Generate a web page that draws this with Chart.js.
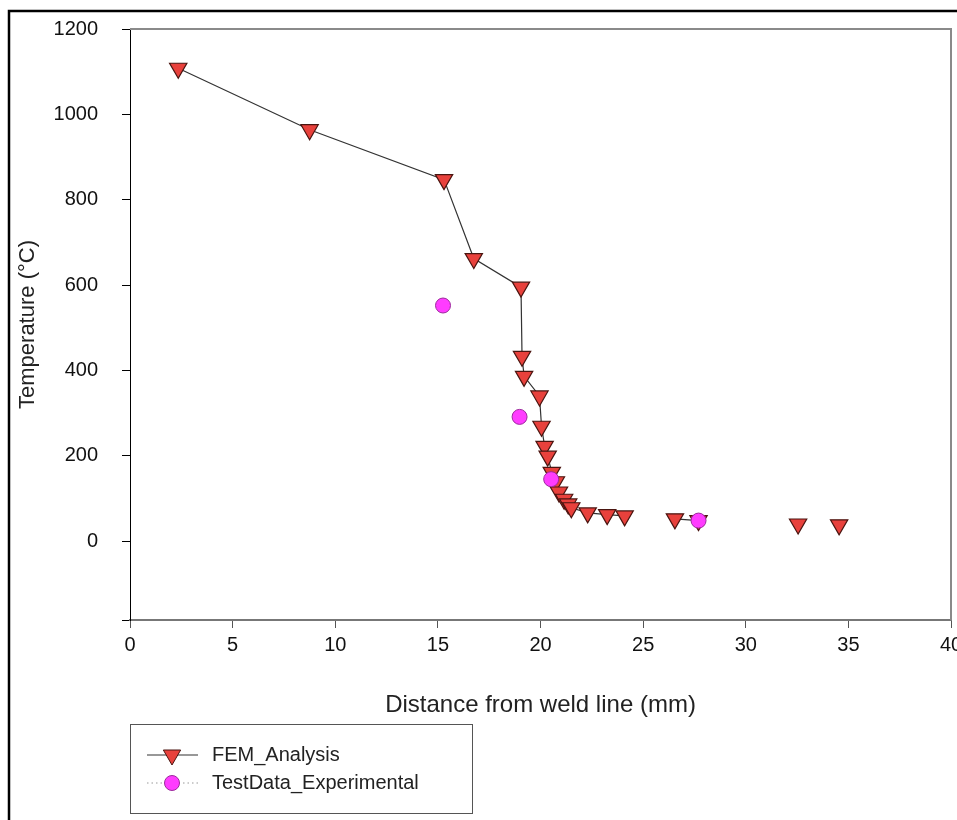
<!DOCTYPE html>
<html>
<head>
<meta charset="utf-8">
<script src="https://cdn.jsdelivr.net/npm/chart.js@4.4.1/dist/chart.umd.min.js"></script>
<style>
  body { margin: 0; background: #fff; overflow: hidden; }
  canvas { display: block; }
</style>
</head>
<body>
<canvas id="tempChart" width="957" height="820"></canvas>
<script>
    // Data
    const femX = [2.35, 8.75, 15.3, 16.75, 19.05, 19.1, 19.2, 19.95, 20.05, 20.2, 20.35, 20.55, 20.75, 20.9, 21.15, 21.35, 21.5, 22.3, 23.25, 24.1, 25.3, 26.55, 27.7, 30.1, 32.55, 33.5, 34.55];
    const femY = [1108, 964, 847, 662, 595, 433, 386, 340, 269, 222, 199, 161, 139, 115, 98, 87, 78, 66, 62, 59, null, 52, 48, null, 40, null, 38];
    const expX = [15.25, 18.98, 20.52, 27.7];
    const expY = [552, 291, 145, 48];
    const xTicks = [0, 5, 10, 15, 20, 25, 30, 35, 40];
    const yTicks = [0, 200, 400, 600, 800, 1000, 1200];

    const FONT = "'Liberation Sans', Arial, sans-serif";

    function toPoints(xs, ys) {
      return xs.map((x, i) => ({ x: x, y: ys[i] }));
    }

    // Frame, top/right plot borders and the boxed legend
    const decorPlugin = {
      id: 'decor',
      afterDraw(chart) {
        const ctx = chart.ctx;
        const a = chart.chartArea;
        ctx.save();
        // outer figure frame
        ctx.strokeStyle = '#000';
        ctx.lineWidth = 2.5;
        ctx.beginPath();
        ctx.moveTo(9, 830);
        ctx.lineTo(9, 11);
        ctx.lineTo(970, 11);
        ctx.stroke();
        // top and right of plot box
        ctx.strokeStyle = '#8a8a8a';
        ctx.lineWidth = 2;
        ctx.beginPath();
        ctx.moveTo(a.left, a.top);
        ctx.lineTo(a.right, a.top);
        ctx.lineTo(a.right, a.bottom);
        ctx.stroke();

        // legend
        ctx.strokeStyle = '#555';
        ctx.lineWidth = 1;
        ctx.strokeRect(130.5, 724.5, 342, 89);
        const rows = [755, 783];
        chart.data.datasets.forEach((ds, i) => {
          const y = rows[i];
          ctx.save();
          ctx.strokeStyle = i === 0 ? '#333' : '#999';
          ctx.lineWidth = i === 0 ? 1.2 : 1;
          ctx.setLineDash(i === 0 ? [] : [1.5, 3]);
          ctx.beginPath();
          ctx.moveTo(147, y);
          ctx.lineTo(198, y);
          ctx.stroke();
          ctx.restore();

          ctx.save();
          ctx.fillStyle = ds.pointBackgroundColor;
          ctx.strokeStyle = ds.pointBorderColor;
          ctx.lineWidth = 1;
          Chart.helpers.drawPoint(ctx, {
            pointStyle: ds.pointStyle,
            rotation: ds.pointRotation || 0,
            radius: ds.pointRadius,
            borderWidth: 1
          }, 172, y);
          ctx.restore();

          ctx.fillStyle = '#222';
          ctx.font = '20px ' + FONT;
          ctx.textBaseline = 'middle';
          ctx.textAlign = 'left';
          ctx.fillText(ds.label, 212, y);
        });
        ctx.restore();
      }
    };

    new Chart(document.getElementById('tempChart'), {
      type: 'scatter',
      data: {
        datasets: [
          {
            label: 'FEM_Analysis',
            data: toPoints(femX, femY),
            showLine: true,
            spanGaps: false,
            borderColor: '#333',
            borderWidth: 1.2,
            pointStyle: 'triangle',
            pointRotation: 180,
            pointRadius: 10,
            pointHoverRadius: 10,
            pointBackgroundColor: '#e8413c',
            pointBorderColor: '#4a1510',
            pointBorderWidth: 1.2,
            order: 2
          },
          {
            label: 'TestData_Experimental',
            data: toPoints(expX, expY),
            showLine: false,
            pointStyle: 'circle',
            pointRadius: 7.5,
            pointHoverRadius: 7.5,
            pointBackgroundColor: '#ff3cff',
            pointBorderColor: '#9b2a9b',
            pointBorderWidth: 1,
            order: 1
          }
        ]
      },
      options: {
        responsive: false,
        animation: false,
        layout: { autoPadding: false, padding: { top: 29, right: 6, bottom: 100, left: 0 } },
        plugins: {
          legend: { display: false },
          tooltip: { enabled: false }
        },
        scales: {
          x: {
            type: 'linear',
            min: xTicks[0],
            max: xTicks[xTicks.length - 1],
            afterBuildTicks: s => { s.ticks = xTicks.map(v => ({ value: v })); },
            afterFit: s => { s.height = 100; s.paddingLeft = 0; s.paddingRight = 0; },
            border: { display: true, color: '#777', width: 2 },
            grid: { drawOnChartArea: false, drawTicks: true, tickLength: 8, color: '#555' },
            ticks: { color: '#111', font: { family: FONT, size: 20 }, padding: 5, maxRotation: 0 },
            title: {
              display: true,
              text: 'Distance from weld line (mm)',
              color: '#222',
              font: { family: FONT, size: 24 },
              padding: { top: 0, bottom: 0 }
            }
          },
          y: {
            type: 'linear',
            min: -185,
            max: 1200,
            afterBuildTicks: s => { s.ticks = [{ value: -185 }].concat(yTicks.map(v => ({ value: v }))); },
            afterFit: s => { s.width = 130; s.paddingTop = 0; s.paddingBottom = 0; },
            border: { display: true, color: '#000', width: 1 },
            grid: { drawOnChartArea: false, drawTicks: true, tickLength: 8, color: '#000' },
            ticks: {
              color: '#111',
              font: { family: FONT, size: 20 },
              padding: 24,
              callback: v => (yTicks.includes(v) ? String(v) : '')
            },
            title: {
              display: true,
              text: 'Temperature (°C)',
              color: '#222',
              font: { family: FONT, size: 22 },
              padding: { top: 15, bottom: 0 }
            }
          }
        }
      },
      plugins: [decorPlugin]
    });
</script>
</body>
</html>
